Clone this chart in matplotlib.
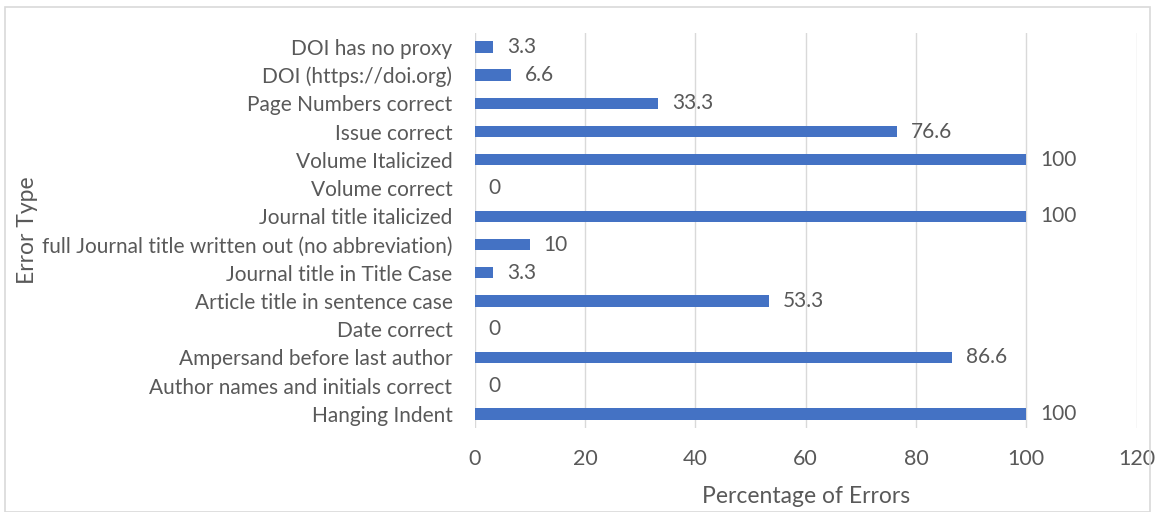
import matplotlib.pyplot as plt
from matplotlib.patches import Rectangle

categories = ['DOI has no proxy', 'DOI (https://doi.org)', 'Page Numbers correct',
              'Issue correct', 'Volume Italicized', 'Volume correct',
              'Journal title italicized',
              'full Journal title written out (no abbreviation)',
              'Journal title in Title Case', 'Article title in sentence case',
              'Date correct', 'Ampersand before last author',
              'Author names and initials correct', 'Hanging Indent']
values = [3.3, 6.6, 33.3, 76.6, 100, 0, 100, 10, 3.3, 53.3, 0, 86.6, 0, 100]
labels = ['3.3', '6.6', '33.3', '76.6', '100', '0', '100', '10', '3.3', '53.3',
          '0', '86.6', '0', '100']
xticks = [0, 20, 40, 60, 80, 100, 120]

plt.rcParams['font.family'] = ['Lato', 'DejaVu Sans']
txt = '#595959'

fig = plt.figure(figsize=(11.55, 5.12), dpi=100)
fig.patches.append(Rectangle((0.004, 0.0), 0.992, 0.986, transform=fig.transFigure,
                             fill=False, edgecolor='#d9d9d9', lw=1.2))

ax = fig.add_axes((0.411, 0.164, 0.573, 0.772))
y = list(range(len(categories)))
ax.barh(y, values, height=0.4, color='#4472C4', zorder=3)
for yi, v, lab in zip(y, values, labels):
    ax.annotate(lab, (v, yi), xytext=(10, 0), textcoords='offset points',
                va='center', ha='left', fontsize=15, color=txt)

ax.set_ylim(len(categories) - 0.5, -0.5)
ax.set_yticks(y)
ax.set_yticklabels(categories, fontsize=15, color=txt)
ax.set_xlim(0, 120)
ax.set_xticks(xticks)
ax.set_xticklabels([str(t) for t in xticks], fontsize=15.5, color=txt)
ax.tick_params(length=0, pad=16, axis='y')
ax.tick_params(length=0, pad=15, axis='x')
ax.grid(axis='x', color='#d9d9d9', lw=1, zorder=0)
for s in ax.spines.values():
    s.set_visible(False)

ax.set_xlabel('Percentage of Errors', fontsize=16.5, color=txt, labelpad=12)
fig.text(0.024, 0.55, 'Error Type', rotation=90, fontsize=16.5, color=txt,
         va='center', ha='center')

fig.savefig('out.png', dpi=100)
